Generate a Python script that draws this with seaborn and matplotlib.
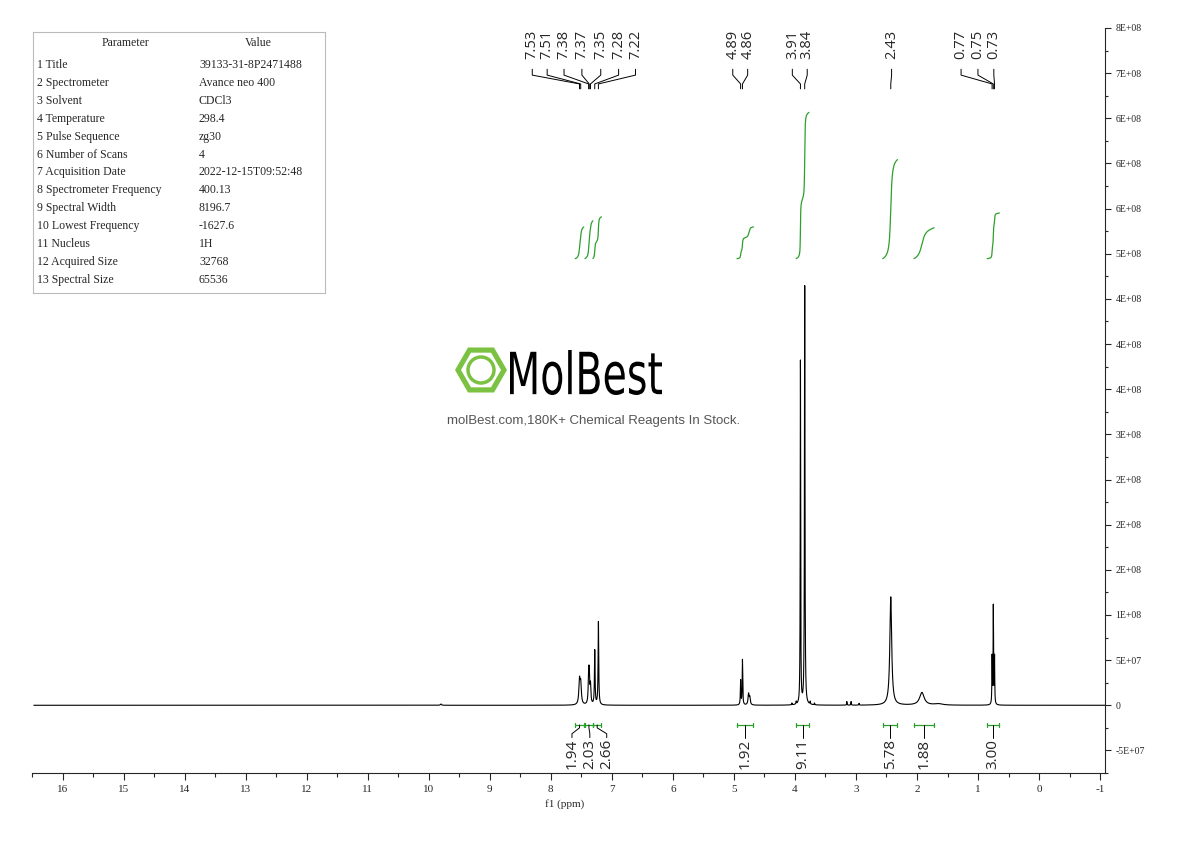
import numpy as np
import matplotlib
matplotlib.use("Agg")
import matplotlib.pyplot as plt
from matplotlib.patches import RegularPolygon, Circle, PathPatch
from matplotlib.textpath import TextPath
from matplotlib.font_manager import FontProperties
from matplotlib.transforms import Affine2D
import seaborn as sns

sns.set_style("white")
plt.rcParams['font.family'] = ['Liberation Serif', 'DejaVu Serif']

# --- peak list (ppm, height, half width) ---
peak_ppm = [7.53, 7.51, 7.38, 7.37, 7.35, 7.28, 7.22, 4.89, 4.86, 4.76, 4.74,
            4.05, 3.98, 3.91, 3.84, 3.75, 3.68, 3.15, 3.08, 2.95, 2.43, 1.92, 1.65,
            0.77, 0.75, 0.73, 9.8]
peak_h = [26e6, 22e6, 30e6, 28e6, 20e6, 60e6, 92e6, 27e6, 50e6, 12e6, 8e6,
          2e6, 3e6, 380e6, 464e6, 3e6, 2e6, 4e6, 4e6, 2e6, 120e6, 14e6, 1.5e6,
          52e6, 108e6, 52e6, 1.5e6]
peak_w = [0.012, 0.012, 0.008, 0.008, 0.008, 0.006, 0.006, 0.005, 0.005, 0.01, 0.01,
          0.004, 0.004, 0.004, 0.005, 0.004, 0.004, 0.004, 0.004, 0.004, 0.018, 0.045, 0.08,
          0.004, 0.004, 0.004, 0.01]

# integrals: ppm range, value, curve top (signal units)
int_from = [7.60, 7.44, 7.31, 4.95, 3.98, 2.56, 2.05, 0.85]
int_to = [7.46, 7.31, 7.17, 4.68, 3.77, 2.32, 1.72, 0.65]
int_val = ["1.94", "2.03", "2.66", "1.92", "9.11", "5.78", "1.88", "3.00"]
int_top = [1.15e8, 1.23e8, 1.28e8, 1.15e8, 2.63e8, 2.02e8, 1.14e8, 1.33e8]
int_base = 0.74e8

# shift labels at the top
shift_groups = [[7.53, 7.51, 7.38, 7.37, 7.35, 7.28, 7.22], [4.89, 4.86],
                [3.91, 3.84], [2.43], [0.77, 0.75, 0.73]]

params = ["Title", "Spectrometer", "Solvent", "Temperature", "Pulse Sequence",
          "Number of Scans", "Acquisition Date", "Spectrometer Frequency",
          "Spectral Width", "Lowest Frequency", "Nucleus", "Acquired Size", "Spectral Size"]
values = ["39133-31-8P2471488", "Avance neo 400", "CDCl3", "298.4", "zg30", "4",
          "2022-12-15T09:52:48", "400.13", "8196.7", "-1627.6", "1H", "32768", "65536"]

ytick_vals = np.arange(-5e7, 7.6e8, 5e7)
ytick_labels = ["-5E+07", "0", "5E+07", "1E+08", "2E+08", "2E+08", "2E+08", "3E+08",
                "4E+08", "4E+08", "4E+08", "5E+08", "6E+08", "6E+08", "6E+08", "7E+08", "8E+08"]

W, H = 1190, 841
fig = plt.figure(figsize=(11.9, 8.41), dpi=100)
ax = fig.add_axes([32 / W, 1 - 773 / H, (1105 - 32) / W, (773 - 28) / H])

XL, XR = 16.37, -1.08
ax.set_xlim(XL, XR)
ax.set_ylim(-7.2e7, 7.39e8)


def px_x(p):
    return XL + (p - 32) / (1105 - 32) * (XR - XL)


def px_y(p):
    return (707 - p) / 46 * 5e7


# integral curves are drawn on their own scale
def int_y(v):
    return px_y(252) + (v - int_base) / (int_top[4] - int_base) * (px_y(103) - px_y(252))


x = np.linspace(XL + 0.1, XR, 40000)
y = np.zeros_like(x)
for c, h, w in zip(peak_ppm, peak_h, peak_w):
    y += h * w ** 2 / ((x - c) ** 2 + w ** 2)
sns.lineplot(x=x, y=y, ax=ax, color="black", lw=0.8, estimator=None, sort=False)

green = "#2ca02c"
label_px = [568, 586, 603, None, None, None, None, None]
for a, b, v, top, lp in zip(int_from, int_to, int_val, int_top, label_px):
    m = (x <= a) & (x >= b)
    cum = np.cumsum(y[m])
    cum = cum / cum.max()
    ax.plot(x[m], int_y(int_base + (top - int_base) * cum), color=green, lw=0.9)
    yb = px_y(727)
    mid = (a + b) / 2
    ax.plot([a, b], [yb, yb], color=green, lw=0.9)
    for e in (a, b):
        ax.plot([e, e], [yb - 2.5e6, yb + 2.5e6], color=green, lw=0.9)
    lx = mid if lp is None else px_x(lp)
    ax.plot([mid, mid, lx, lx], [yb, px_y(730), px_y(736), px_y(740)], color="black", lw=0.7)
    ax.text(lx, px_y(741), v, rotation=90, ha="center", va="top",
            fontsize=11, family=["Open Sans", "DejaVu Sans"])

# shift labels with fan lines
shift_px = [[528, 543, 560, 578, 597, 615, 632], [730, 745], [790, 805], [890], [960, 977, 993]]
for grp, lpx in zip(shift_groups, shift_px):
    for s, lp in zip(grp, lpx):
        lx = px_x(lp)
        ax.text(lx, px_y(49), f"{s:.2f}", rotation=90, ha="center", va="bottom",
                fontsize=10.5, family=["Open Sans", "DejaVu Sans"])
        ax.plot([lx, lx, s, s], [px_y(59), px_y(65), px_y(74), px_y(79)], color="black", lw=0.7)

ax.set_xticks(np.arange(16, -2, -1))
ax.set_xticks(np.arange(16.5, -1, -0.5), minor=True)
ax.set_xticklabels([str(t) for t in range(16, -2, -1)], fontsize=8)
ax.yaxis.tick_right()
ax.set_yticks(ytick_vals)
ax.set_yticklabels(ytick_labels, fontsize=7)
ax.set_yticks(np.arange(-7.5e7, 7.4e8, 2.5e7), minor=True)
ax.tick_params(axis="x", which="both", direction="out", bottom=True, length=5, width=0.8)
ax.tick_params(axis="x", which="minor", length=3)
ax.tick_params(axis="y", which="both", direction="out", right=True, left=False, length=4, width=0.8)
ax.tick_params(axis="y", which="minor", length=2)
for sp in ("left", "top"):
    ax.spines[sp].set_visible(False)
ax.spines["bottom"].set_linewidth(0.8)
ax.spines["right"].set_linewidth(0.8)
ax.set_xlabel("f1 (ppm)", fontsize=8, labelpad=0)
ax.xaxis.set_label_coords((565 - 32) / (1105 - 32), -0.035)
ax.set_ylabel("")

# parameter table
tax = fig.add_axes([33 / W, 1 - 293 / H, (325 - 33) / W, (293 - 32) / H])
tax.set_xlim(33, 325)
tax.set_ylim(293, 32)
tax.set_xticks([])
tax.set_yticks([])
for sp in tax.spines.values():
    sp.set_color("#bbbbbb")
    sp.set_linewidth(0.8)
tax.text(125, 43, "Parameter", ha="center", va="center", fontsize=8.5)
tax.text(258, 43, "Value", ha="center", va="center", fontsize=8.5)
for i, (p, v) in enumerate(zip(params, values)):
    yy = 65 + i * 17.9
    tax.text(37, yy, f"{i + 1} {p}", va="center", fontsize=8.5)
    tax.text(199, yy, v, va="center", fontsize=8.5)

# logo
lax = fig.add_axes([440 / W, 1 - 410 / H, 240 / W, 70 / H])
lax.set_xlim(440, 680)
lax.set_ylim(410, 340)
lax.axis("off")
lax.add_patch(RegularPolygon((481, 370), 6, radius=26, orientation=np.pi / 6,
                             facecolor="#7cc242", edgecolor="none"))
lax.add_patch(RegularPolygon((481, 370), 6, radius=20, orientation=np.pi / 6,
                             facecolor="white", edgecolor="none"))
lax.add_patch(Circle((481, 370), 13, facecolor="none", edgecolor="#7cc242", lw=2.5))
tp = TextPath((0, 0), "MolBest", size=10, prop=FontProperties(family="DejaVu Sans"))
bb = tp.get_extents()
sx = 152 / bb.width
sy = 45 / bb.height
tr = Affine2D().translate(-bb.x0, -bb.y0).scale(sx, -sy).translate(510, 395)
lax.add_patch(PathPatch(tr.transform_path(tp), facecolor="black", edgecolor="none"))
fig.text(594 / W, 1 - 421 / H, "molBest.com,180K+ Chemical Reagents In Stock.",
         ha="center", va="center", fontsize=9.5, color="#555555",
         family=["Liberation Sans", "DejaVu Sans"])

fig.savefig("out.png", dpi=100)
